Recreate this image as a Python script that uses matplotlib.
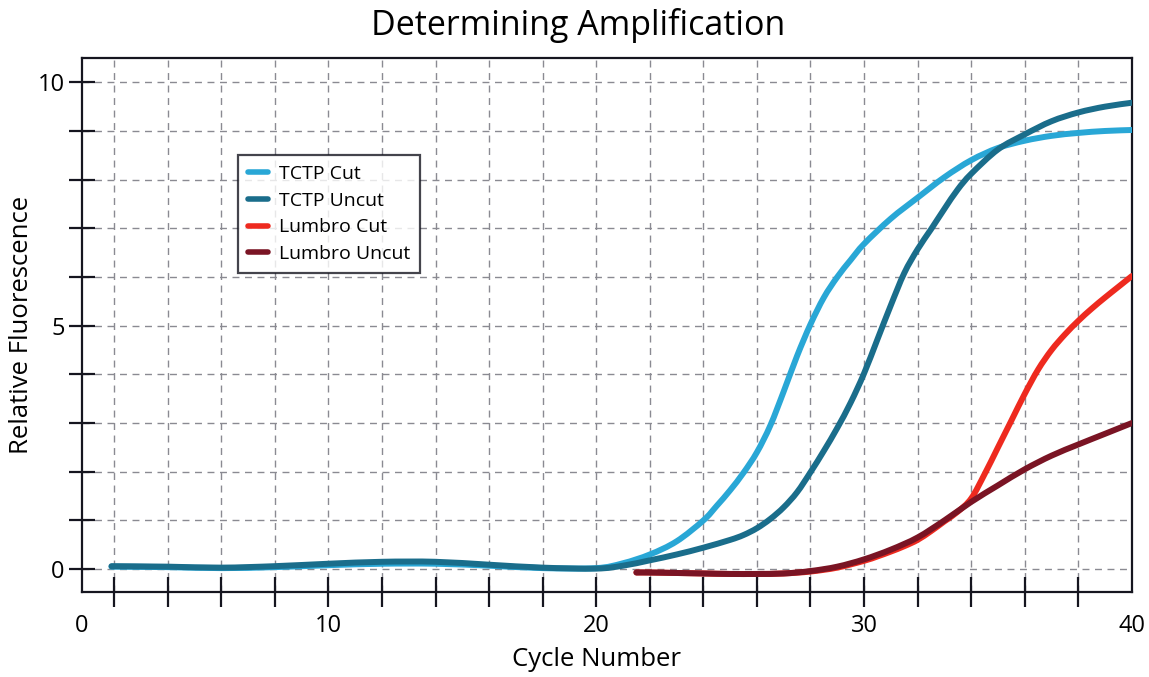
import numpy as np
import matplotlib
matplotlib.use('Agg')
import matplotlib.pyplot as plt
from matplotlib.path import Path
from matplotlib.patches import PathPatch
from matplotlib.lines import Line2D

plt.rcParams['font.family'] = ['Open Sans', 'DejaVu Sans']

# TCTP Cut
cut_x = [1.9, 4, 6, 8, 10, 12, 14, 16, 18, 20, 21, 22, 23, 24, 24.5, 25, 25.5, 26, 26.5,
	27, 27.5, 28, 28.5, 29, 29.5, 30, 31, 32, 33, 34, 35, 36, 37, 38, 39, 40]
cut_y = [0.05, 0.04, 0.02, 0.04, 0.08, 0.11, 0.11, 0.07, 0.02, 0.02, 0.12, 0.3, 0.57, 1.0, 1.3,
	1.62, 1.98, 2.4, 2.95, 3.65, 4.38, 5.03, 5.58, 6.0, 6.35, 6.68, 7.2, 7.63, 8.05, 8.4, 8.65,
	8.8, 8.9, 8.96, 9.0, 9.02]

# TCTP Uncut
uncut_x = [1.9, 4, 6, 8, 10, 12, 14, 16, 18, 20, 21, 22, 23, 24, 25, 25.5, 26, 26.5, 27, 27.5,
	28, 28.5, 29, 29.5, 30, 30.5, 31, 31.5, 32, 32.5, 33, 33.5, 34, 35, 36, 37, 38, 39, 40]
uncut_y = [0.06, 0.05, 0.03, 0.06, 0.11, 0.15, 0.15, 0.09, 0.03, 0.01, 0.07, 0.18, 0.3, 0.44,
	0.6, 0.7, 0.84, 1.03, 1.27, 1.58, 1.99, 2.43, 2.9, 3.42, 4.02, 4.72, 5.42, 6.08, 6.57, 6.98,
	7.4, 7.8, 8.12, 8.62, 8.93, 9.2, 9.38, 9.5, 9.58]

# Lumbro Cut
lcut_x = [21.5, 22, 23, 24, 25, 26, 27, 28, 29, 30, 30.5, 31, 31.5, 32, 32.5, 33, 33.5, 34,
	34.5, 35, 35.5, 36, 36.5, 37, 37.5, 38, 38.5, 39, 39.5, 40]
lcut_y = [-0.07, -0.07, -0.08, -0.09, -0.1, -0.1, -0.09, -0.05, 0.03, 0.17, 0.26, 0.36, 0.47,
	0.6, 0.78, 0.98, 1.18, 1.45, 1.95, 2.5, 3.05, 3.6, 4.1, 4.5, 4.82, 5.1, 5.35, 5.58, 5.8, 6.02]

# Lumbro Uncut
luncut_x = [21.5, 22, 23, 24, 25, 26, 27, 28, 29, 30, 31, 32, 33, 34, 35, 36, 37, 38, 39, 40]
luncut_y = [-0.07, -0.07, -0.08, -0.09, -0.1, -0.1, -0.09, -0.04, 0.05, 0.2, 0.4, 0.65, 1.0,
	1.38, 1.72, 2.05, 2.33, 2.56, 2.78, 3.0]

x_labels = ['0', '10', '20', '30', '40']
y_labels = {0: '0', 5: '5', 10: '10'}

def smoothPath(xs, ys):
	# catmull-rom through the points, drawn as cubic bezier segments
	p = np.column_stack([xs, ys]).astype(float)
	p_ext = np.vstack([p[0], p, p[-1]])
	verts = [p[0]]
	codes = [Path.MOVETO]
	for i in range(len(p) - 1):
		a, b, c, d = p_ext[i], p_ext[i + 1], p_ext[i + 2], p_ext[i + 3]
		verts += [b + (c - a) / 6, c - (d - b) / 6, c]
		codes += [Path.CURVE4] * 3
	return Path(verts, codes)

fig = plt.figure(figsize=(11.49, 6.77), dpi=100)
ax = fig.add_axes([0.0714, 0.1256, 0.9137, 0.7888])

lw = 4.3
series = [
	(cut_x, cut_y, '#29a7d6', 'TCTP Cut'),
	(uncut_x, uncut_y, '#1a6d8b', 'TCTP Uncut'),
	(lcut_x, lcut_y, '#ee2a1f', 'Lumbro Cut'),
	(luncut_x, luncut_y, '#7a1424', 'Lumbro Uncut'),
]
handles = []
for xs, ys, col, name in series:
	ax.add_patch(PathPatch(smoothPath(xs, ys), facecolor='none', edgecolor=col, lw=lw,
		capstyle='round', joinstyle='round', zorder=3))
	handles.append(Line2D([], [], color=col, lw=4, solid_capstyle='round', label=name))

ax.set_xlim(0.8, 40)
ax.set_ylim(-0.47, 10.5)

# tick marks every 2 cycles, labels every 10
ax.xaxis.remove_overlapping_locs = False
ax.set_xticks(np.arange(2, 40, 2))
ax.set_xticklabels([])
ax.set_xticks([ax.get_xlim()[0], 10, 20, 30, 40], labels=x_labels, minor=True)
ax.tick_params(axis='x', which='major', direction='inout', length=21, width=1.6, color='#15151f')
ax.tick_params(axis='x', which='minor', length=0, pad=16, labelsize=17)

ax.set_yticks(np.arange(0, 11, 1))
ax.set_yticklabels([y_labels.get(v, '') for v in range(11)])
ax.tick_params(axis='y', direction='inout', length=19, width=1.6, color='#15151f', pad=3, labelsize=17)

ax.grid(True, which='major', color='#8a8a92', linestyle=(0, (5, 4)), linewidth=1.0, zorder=0)
ax.set_axisbelow(True)

for s in ax.spines.values():
	s.set_linewidth(1.6)
	s.set_color('#15151f')

ax.set_xlabel('Cycle Number', fontsize=18.5, va='center')
ax.xaxis.set_label_coords(0.49, -0.127)
ax.set_ylabel('Relative Fluorescence', fontsize=18.5, va='center')
ax.yaxis.set_label_coords(-0.058, 0.5)
fig.text(0.503, 0.963, 'Determining Amplification', ha='center', va='center', fontsize=24.5)

leg = ax.legend(handles=handles, loc='upper left', bbox_to_anchor=(0.149, 0.818), fontsize=14,
	frameon=True, fancybox=False, handlelength=1.0, handletextpad=0.6, labelspacing=0.45,
	borderpad=0.5, borderaxespad=0)
leg.get_frame().set_edgecolor('#15151f')
leg.get_frame().set_linewidth(1.6)

fig.savefig('out.png', dpi=100)
